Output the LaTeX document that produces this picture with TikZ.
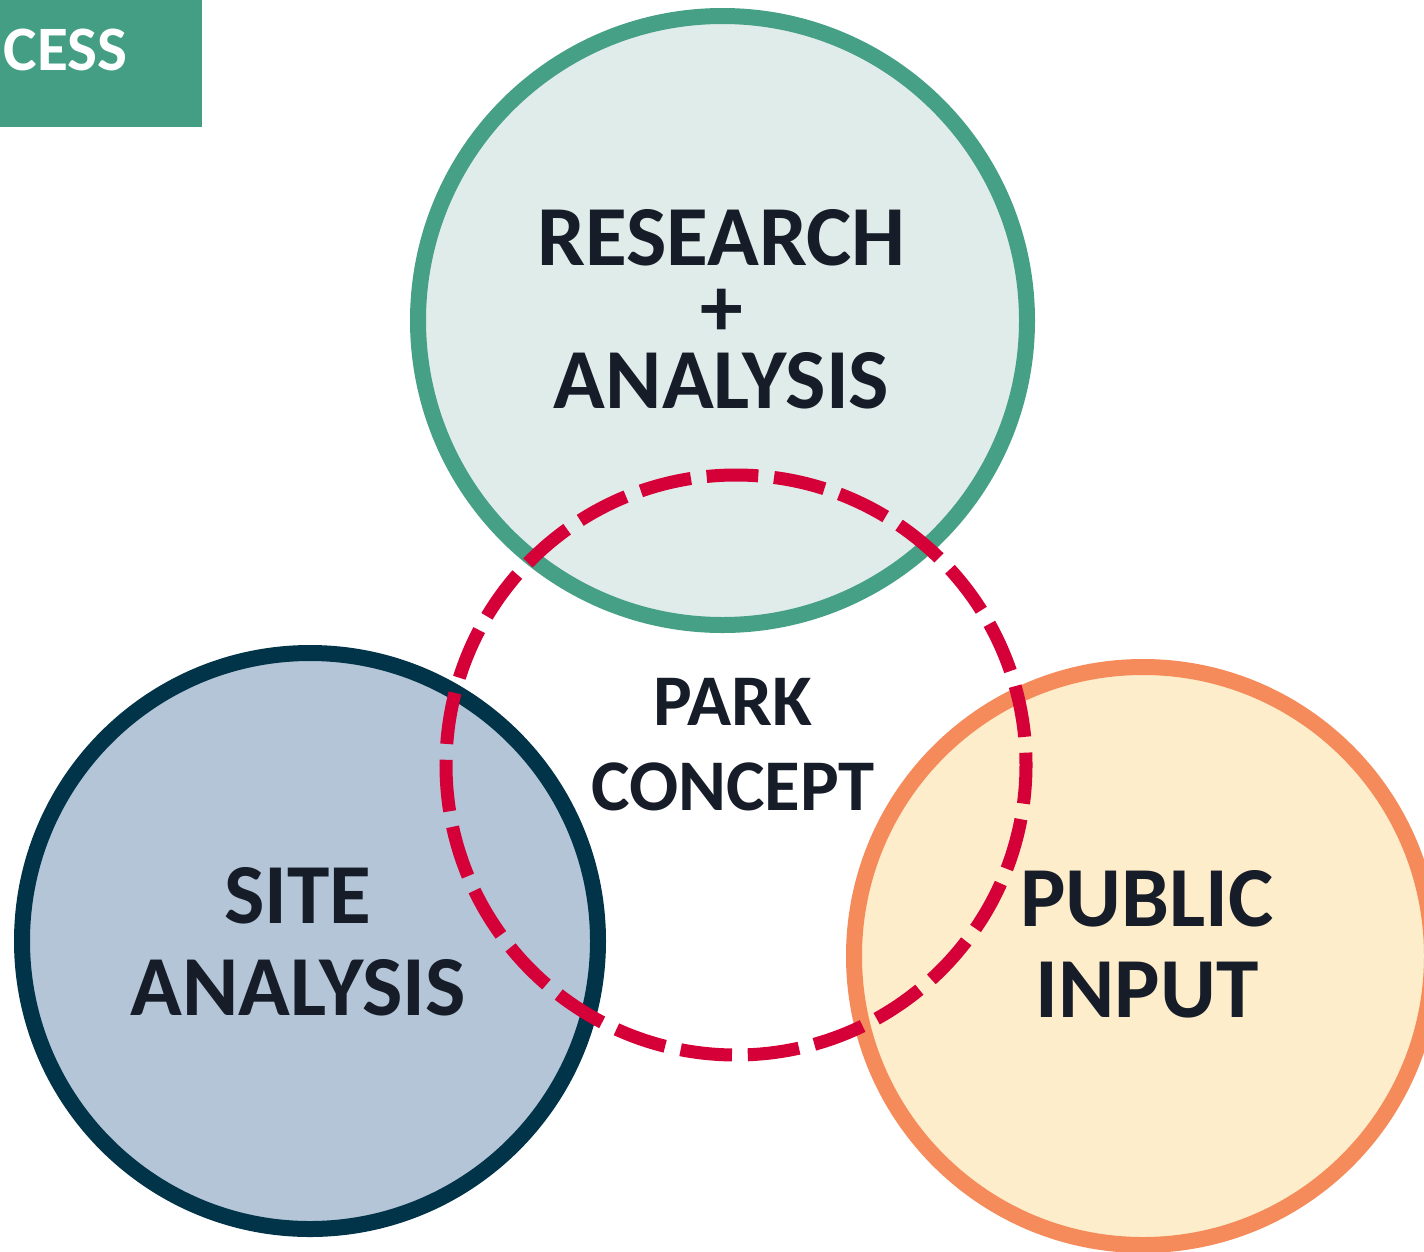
\documentclass[tikz,border=0pt]{standalone}
\usepackage{fontspec}
\setmainfont{Carlito}
\usetikzlibrary{positioning}

\definecolor{headgreen}{HTML}{449E84}
\definecolor{researchline}{HTML}{45A085}
\definecolor{researchfill}{HTML}{E0ECE9}
\definecolor{siteline}{HTML}{023449}
\definecolor{sitefill}{HTML}{B3C5D7}
\definecolor{publicline}{HTML}{F58B5A}
\definecolor{publicfill}{HTML}{FDEDCA}
\definecolor{conceptred}{HTML}{D50037}
\definecolor{inkdark}{HTML}{161D29}

\begin{document}
\begin{tikzpicture}[x=0.01cm, y=-0.01cm,
    venn/.style={line width=4.55pt},
    venntext/.style={inkdark, font=\bfseries, align=center, inner sep=0pt}]
    \useasboundingbox (0,0) rectangle (1424,1251);
    \clip (0,0) rectangle (1424,1251);

    % Header tab
    \fill[headgreen] (0,0) rectangle (202,127);
    \node[white, font=\fontsize{18}{20}\selectfont\bfseries, anchor=base west, inner sep=0pt] (tab) at (3,70) {CESS};

    % The three circles
    \draw[venn, researchline, fill=researchfill] (722.5,320.5) circle[radius=304.5];
    \draw[venn, siteline, fill=sitefill] (310,941) circle[radius=288];
    \draw[venn, publicline, fill=publicfill] (1143,956) circle[radius=289];

    % Park concept (dashed)
    \draw[conceptred, line width=3.7pt, dash pattern=on 14.7pt off 4.5pt, dash phase=3.7pt]
        (736,765) circle[radius=290];

    % Labels
    \node[venntext, font=\fontsize{24.3}{20.3}\selectfont\bfseries] (research) at (721.5,309)
        {RESEARCH\\+\\ANALYSIS};
    \node[venntext, font=\fontsize{20.7}{24.2}\selectfont\bfseries] (park) at (733,744.5)
        {PARK\\CONCEPT};
    \node[venntext, font=\fontsize{24.3}{26.2}\selectfont\bfseries] (site) at (298,941.5)
        {SITE\\ANALYSIS};
    \node[venntext, font=\fontsize{24.3}{25.9}\selectfont\bfseries] (public) at (1147,944.5)
        {PUBLIC\\INPUT};

\end{tikzpicture}
\end{document}
